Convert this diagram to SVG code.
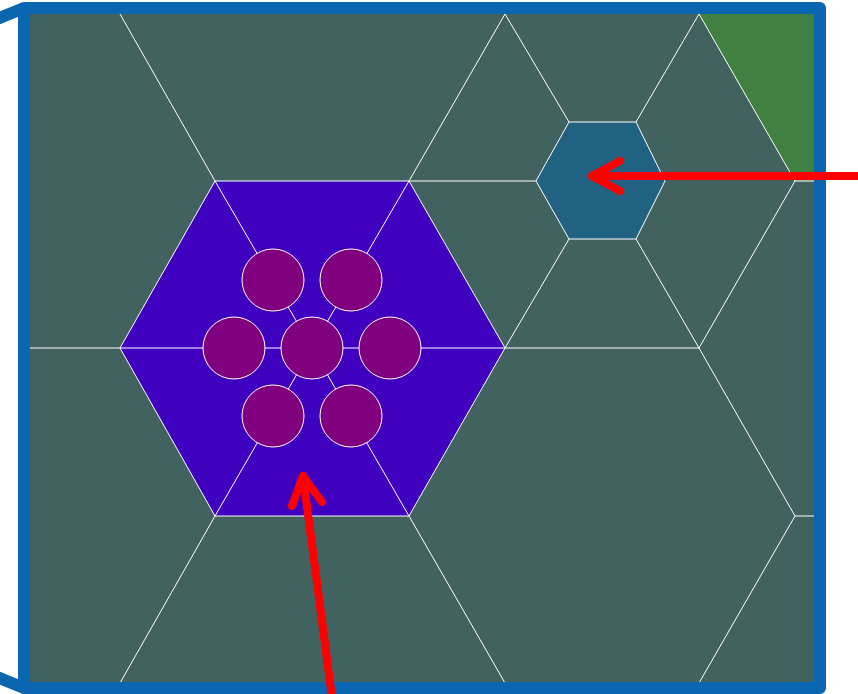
<svg xmlns="http://www.w3.org/2000/svg" width="858" height="694" viewBox="0 0 858 694">
<style>
.grid{stroke:#ffffff;stroke-width:1;fill:none}
.cell{stroke:#ffffff;stroke-width:1}
.dot{fill:#800080;stroke:#ffffff;stroke-width:1}
.arrow{stroke:#ff0000;stroke-width:8;fill:none;stroke-linecap:round;stroke-linejoin:round}
.frame{stroke:#0b66b2;stroke-width:12;fill:none;stroke-linejoin:round}
</style>
<defs>
<clipPath id="inner"><rect x="30" y="14" width="784" height="669"/></clipPath>
</defs>
<rect id="background" x="24" y="8" width="796" height="680" fill="#426260"/>
<g id="cells" clip-path="url(#inner)">
<polygon id="green-cell" points="699,14 814,14 814,181 795,181" fill="#408040"/>
<g id="grid-lines" class="grid">
<line x1="120" y1="14" x2="215" y2="181"/>
<line x1="409" y1="181" x2="505" y2="14"/>
<line x1="505" y1="14" x2="569" y2="122"/>
<line x1="636" y1="122" x2="699" y2="14"/>
<line x1="699" y1="14" x2="795" y2="181"/>
<line x1="795" y1="181" x2="814" y2="181"/>
<line x1="795" y1="181" x2="699" y2="348"/>
<line x1="409" y1="181" x2="536" y2="181"/>
<line x1="569" y1="239" x2="505" y2="348"/>
<line x1="636" y1="239" x2="699" y2="348"/>
<line x1="505" y1="348" x2="699" y2="348"/>
<line x1="699" y1="348" x2="795" y2="516"/>
<line x1="795" y1="516" x2="814" y2="516"/>
<line x1="795" y1="516" x2="699" y2="683"/>
<line x1="505" y1="683" x2="699" y2="683"/>
<line x1="409" y1="516" x2="505" y2="683"/>
<line x1="215" y1="516" x2="120" y2="683"/>
<line x1="30" y1="683" x2="120" y2="683"/>
<line x1="30" y1="348" x2="120" y2="348"/>
</g>
</g>
<g id="small-hex">
<polygon class="cell" points="536,181 569,122 636,122 665,181 636,239 569,239" fill="#216283"/>
</g>
<g id="big-hex">
<polygon class="cell" points="120,348 215,181 409,181 505,348 409,516 215,516" fill="#4000c0"/>
<g class="grid">
<line x1="312" y1="348" x2="120" y2="348"/>
<line x1="312" y1="348" x2="505" y2="348"/>
<line x1="312" y1="348" x2="215" y2="181"/>
<line x1="312" y1="348" x2="409" y2="181"/>
<line x1="312" y1="348" x2="215" y2="516"/>
<line x1="312" y1="348" x2="409" y2="516"/>
</g>
</g>
<g id="circles">
<circle id="c-center" class="dot" cx="312" cy="348" r="31"/>
<circle id="c-left" class="dot" cx="234" cy="348" r="31"/>
<circle id="c-right" class="dot" cx="390" cy="348" r="31"/>
<circle id="c-top-left" class="dot" cx="273" cy="280" r="31"/>
<circle id="c-top-right" class="dot" cx="351" cy="280" r="31"/>
<circle id="c-bottom-left" class="dot" cx="273" cy="416" r="31"/>
<circle id="c-bottom-right" class="dot" cx="351" cy="416" r="31"/>
</g>
<g id="frame">
<path class="frame" d="M24,8 H820 V688 H24 Z"/>
<line class="frame" x1="-20" y1="26" x2="24" y2="8"/>
<line class="frame" x1="-20" y1="670" x2="24" y2="688"/>
</g>
<g id="connectors">
<path class="arrow" d="M870,176 H592"/>
<path class="arrow" d="M620,161 L592,176 L620,191"/>
<path class="arrow" d="M333,705 L303,476"/>
<path class="arrow" d="M292,506 L303,476 L322,502"/>
</g>
</svg>
